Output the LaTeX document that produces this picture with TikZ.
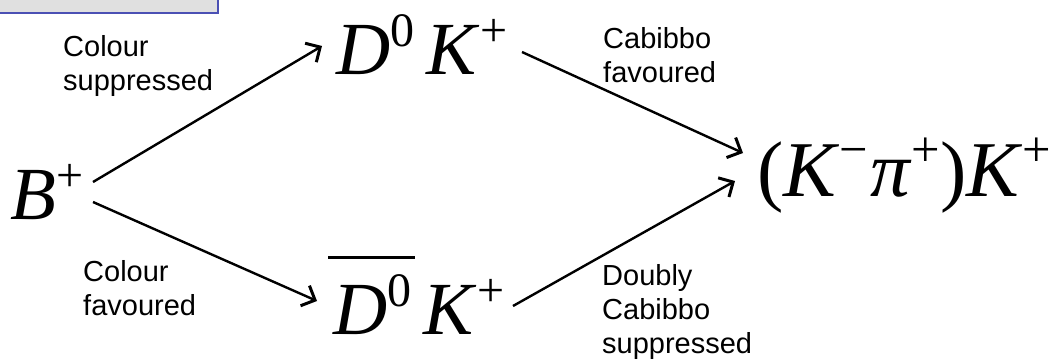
\documentclass[tikz,border=0pt]{standalone}
\usepackage{fontspec}
\setmainfont{Liberation Serif}
\newfontfamily\labelfont{Liberation Sans}
\usetikzlibrary{arrows.meta}
\definecolor{boxfill}{HTML}{E0E0E0}
\definecolor{boxline}{HTML}{4B50B4}
\newcommand\supr[1]{\raisebox{0.37em}{\fontsize{0.64em}{0.64em}\selectfont #1}}
\begin{document}
\begin{tikzpicture}[x=1pt,y=-1pt,
  mathtxt/.style={inner sep=0pt, anchor=base west, font=\fontsize{75}{75}\selectfont},
  lbl/.style={inner sep=0pt, anchor=base west, align=left, font=\labelfont\fontsize{29}{34}\selectfont},
  conn/.style={line width=2.4pt, -{Straight Barb[length=11pt,width=22pt,line width=3pt]}}]
\useasboundingbox (0,0) rectangle (1063,359);
\begin{scope}
  \clip (0,0) rectangle (1063,359);
  \filldraw[fill=boxfill, draw=boxline, line width=2pt] (-5,-5) rectangle (218,13);
\end{scope}
\node[lbl] (ls) at (63,90) {Colour\\suppressed};
\node[lbl] (lf) at (83,315) {Colour\\favoured};
\node[lbl] (lcf) at (603,82) {Cabibbo\\favoured};
\node[lbl] (ldcs) at (602,353) {Doubly\\Cabibbo\\suppressed};
\node[mathtxt] (B) at (10,219) {\textit{B}\supr{+}};
\node[mathtxt] (D) at (336,74) {\textit{D}\supr{0}\,\textit{K}\supr{+}};
\node[mathtxt] (Db) at (333,334) {\rlap{\hspace{-5pt}\raisebox{75pt}{\rule{87pt}{3pt}}}\textit{D}\supr{0}\,\textit{K}\supr{+}};
\node[mathtxt, font=\fontsize{79}{79}\selectfont] (F) at (757,196) {(\textit{K}\supr{−}\hspace{2pt}\textit{π}\supr{+})\textit{K}\supr{+}};
\coordinate (a1) at (93,182); \coordinate (a2) at (322,46);
\coordinate (b1) at (93,202); \coordinate (b2) at (317,301);
\coordinate (c1) at (522,52); \coordinate (c2) at (743,153);
\coordinate (d1) at (513,306); \coordinate (d2) at (735,181);
\draw[conn] (a1) -- (a2);
\draw[conn] (b1) -- (b2);
\draw[conn] (c1) -- (c2);
\draw[conn] (d1) -- (d2);
\end{tikzpicture}
\end{document}
